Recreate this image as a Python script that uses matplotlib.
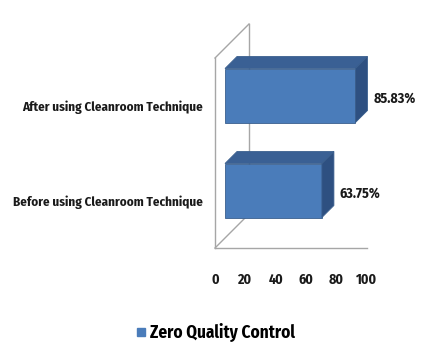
import matplotlib
matplotlib.use("Agg")
import matplotlib.pyplot as plt
from matplotlib.patches import Polygon
from matplotlib.lines import Line2D
from matplotlib import font_manager as fm

categories = ["Before using Cleanroom Technique", "After using Cleanroom Technique"]
values = [63.75, 85.83]
value_labels = ["63.75%", "85.83%"]
xticks = [0, 20, 40, 60, 80, 100]
series_name = "Zero Quality Control"

available = {f.name for f in fm.fontManager.ttflist}
preferred = ["Fira Sans Condensed", "Roboto Condensed", "Open Sans Condensed", "Carlito"]
FONT = [f for f in preferred if f in available] + ["DejaVu Sans"]
plt.rcParams["font.family"] = FONT
plt.rcParams["font.weight"] = "bold"

W, H = 426, 361
fig = plt.figure(figsize=(W / 100, H / 100), dpi=100)
fig.patch.set_facecolor("white")

# front plane of the 3D plot in pixel terms
L, R, B, T = 215, 367, 248, 58
ax = fig.add_axes([L / W, (H - B) / H, (R - L) / W, (B - T) / H])
ax.set_xlim(0, 100)
ax.set_ylim(-0.5, 1.5)
sx = 100 / (R - L)      # data per pixel, x
sy = 2.0 / (B - T)      # data per pixel, y

front_c = "#4A7CBA"
top_c = "#3A6094"
side_c = "#2E5081"
edge_c = "#3A5F8E"
wall_c = "#A6A6A6"
text_c = "#1a1a1a"

DEPTH = 34   # full depth of the plot (px)
FO = 10      # bar front offset (px)
BD = 12      # bar depth (px)
HH = 27      # bar half height (px)

bx, by = DEPTH * sx, DEPTH * sy
ax.plot([0, bx], [1.5, 1.5 + by], color=wall_c, lw=1, clip_on=False, zorder=1)
ax.plot([bx, bx], [-0.5 + by, 1.5 + by], color=wall_c, lw=1, clip_on=False, zorder=1)
ax.plot([0, bx], [-0.5, -0.5 + by], color=wall_c, lw=1, clip_on=False, zorder=1)

for i, (v, lab) in enumerate(zip(values, value_labels)):
    x0 = FO * sx
    x1 = v + FO * sx
    yb = i - HH * sy + FO * sy
    yt = i + HH * sy + FO * sy
    dx, dy = BD * sx, BD * sy
    front = Polygon([(x0, yb), (x1, yb), (x1, yt), (x0, yt)], closed=True,
                    facecolor=front_c, edgecolor=edge_c, lw=0.6, clip_on=False, zorder=3)
    top = Polygon([(x0, yt), (x1, yt), (x1 + dx, yt + dy), (x0 + dx, yt + dy)], closed=True,
                  facecolor=top_c, edgecolor=edge_c, lw=0.6, clip_on=False, zorder=3)
    side = Polygon([(x1, yb), (x1, yt), (x1 + dx, yt + dy), (x1 + dx, yb + dy)], closed=True,
                   facecolor=side_c, edgecolor=edge_c, lw=0.6, clip_on=False, zorder=3)
    for p in (front, top, side):
        ax.add_patch(p)
    ax.annotate(lab, xy=(x1 + dx, i), xycoords="data",
                xytext=(6, 7), textcoords="offset pixels",
                ha="left", va="center", fontsize=10, fontweight="bold",
                color=text_c, zorder=5)

for s in ("top", "right"):
    ax.spines[s].set_visible(False)
for s in ("left", "bottom"):
    ax.spines[s].set_color(wall_c)
    ax.spines[s].set_linewidth(1)
    ax.spines[s].set_zorder(1)

ax.set_xticks(xticks)
ax.set_xticklabels([str(t) for t in xticks])
ax.set_yticks([0, 1])
ax.set_yticklabels(categories)
ax.tick_params(axis="x", length=0, pad=18, labelsize=10, labelcolor=text_c)
ax.tick_params(axis="y", length=0, pad=9, labelsize=9.4, labelcolor=text_c)
for t in ax.get_yticklabels():
    t.set_verticalalignment("center_baseline")
ax.set_facecolor("none")

handle = Line2D([], [], marker="s", linestyle="none", markersize=6,
                markerfacecolor=front_c, markeredgecolor=front_c)
fig.legend([handle], [series_name], loc="center", bbox_to_anchor=(216 / W, 1 - 333 / H),
           frameon=False, handlelength=0.5, handletextpad=0.25,
           prop={"family": FONT, "weight": "bold", "size": 12.4})

fig.savefig("out.png", dpi=100, facecolor="white")
